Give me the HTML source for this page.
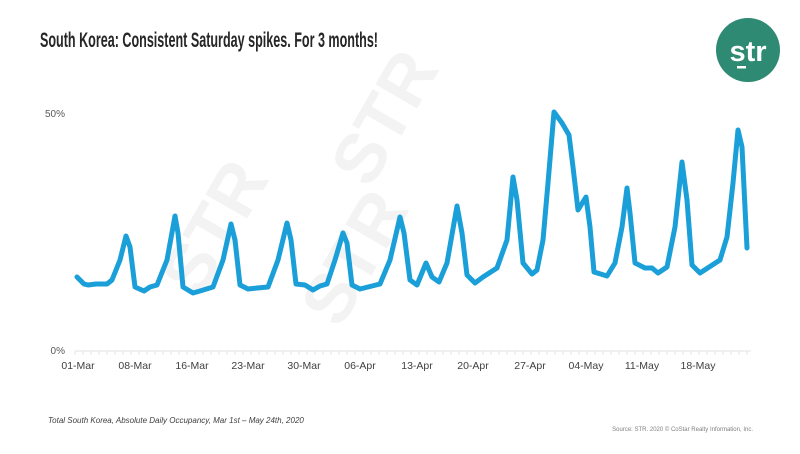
<!DOCTYPE html>
<html><head><meta charset="utf-8"><style>
body{margin:0;width:800px;height:449px;background:#fff;overflow:hidden;font-family:"Liberation Sans",sans-serif}
</style></head><body>
<svg width="800" height="449" viewBox="0 0 800 449" xmlns="http://www.w3.org/2000/svg" font-family="Liberation Sans, sans-serif">
<text x="40" y="47" font-size="21" font-weight="bold" fill="#262626" textLength="338" lengthAdjust="spacingAndGlyphs">South Korea: Consistent Saturday spikes. For 3 months!</text>
<circle cx="748" cy="50" r="32" fill="#2e8a72"/>
<text x="748" y="61" font-size="29" font-weight="bold" fill="#fff" text-anchor="middle">str</text>
<rect x="737" y="66" width="9" height="2.5" fill="#fff"/>
<g fill="#f3f3f3" font-size="70" font-weight="bold">
<text transform="translate(200,300) rotate(-60)">STR</text>
<text transform="translate(340,330) rotate(-60)">STR</text>
<text transform="translate(370,190) rotate(-60)">STR</text>
</g>
<text x="65" y="117" font-size="10" fill="#595959" text-anchor="end">50%</text>
<text x="65" y="354" font-size="10" fill="#595959" text-anchor="end">0%</text>
<line x1="75" y1="351" x2="751" y2="351" stroke="#e3e3e3" stroke-width="1"/>
<g stroke="#e3e3e3" stroke-width="1">
<path d="M75 351v4M83 351v4M91 351v4M99 351v4M107 351v4M115 351v4M123 351v4M131 351v4M139 351v4M147 351v4M155 351v4M163 351v4M171 351v4M179 351v4M187 351v4M195 351v4M203 351v4M211 351v4M219 351v4M227 351v4M235 351v4M243 351v4M251 351v4M259 351v4M267 351v4M275 351v4M283 351v4M291 351v4M299 351v4M307 351v4M315 351v4M323 351v4M331 351v4M339 351v4M347 351v4M355 351v4M363 351v4M371 351v4M379 351v4M387 351v4M395 351v4M403 351v4M411 351v4M419 351v4M427 351v4M435 351v4M443 351v4M451 351v4M459 351v4M467 351v4M475 351v4M483 351v4M491 351v4M499 351v4M507 351v4M515 351v4M523 351v4M531 351v4M539 351v4M547 351v4M555 351v4M563 351v4M571 351v4M579 351v4M587 351v4M595 351v4M603 351v4M611 351v4M619 351v4M627 351v4M635 351v4M643 351v4M651 351v4M659 351v4M667 351v4M675 351v4M683 351v4M691 351v4M699 351v4M707 351v4M715 351v4M723 351v4M731 351v4M739 351v4M747 351v4"/>
</g>
<g font-size="10.5" fill="#404040" text-anchor="middle">
<text x="78" y="369">01-Mar</text><text x="135" y="369">08-Mar</text><text x="192" y="369">16-Mar</text>
<text x="248" y="369">23-Mar</text><text x="304" y="369">30-Mar</text><text x="360" y="369">06-Apr</text>
<text x="417" y="369">13-Apr</text><text x="473" y="369">20-Apr</text><text x="530" y="369">27-Apr</text>
<text x="586" y="369">04-May</text><text x="642" y="369">11-May</text><text x="698" y="369">18-May</text>
</g>
<polyline fill="none" stroke="#1a9fd9" stroke-width="5" stroke-linejoin="round" stroke-linecap="round" points="77,277 84,284 88,285 96,284 107,284 112,280 120,260 126,236 130,247 135,287 144,291 150,287 157,285 167,260 175,216 178,233 183,287 193,293 200,291 213,287 223,260 231,224 235,240 240,285 248,289 257,288 268,287 278,260 287,223 291,240 296,284 305,285 313,290 320,286 327,284 335,260 343,233 347,243 352,285 360,289 380,284 390,260 400,217 404,233 410,280 417,285 426,263 432,277 439,282 447,263 457,206 462,233 467,275 475,283 483,277 497,268 507,240 513,177 517,200 523,263 532,274 537,270 543,240 548,183 554,112 562,123 569,135 573,167 578,210 586,197 590,227 594,272 607,276 615,263 622,227 627,188 630,213 635,263 645,268 652,268 658,273 667,267 675,227 682,162 687,200 692,265 700,273 720,260 727,237 733,183 738,130 742,147 747,248"/>
<text x="48" y="423" font-size="8" font-style="italic" fill="#404040">Total South Korea, Absolute Daily Occupancy, Mar 1st – May 24th, 2020</text>
<text x="753" y="431" font-size="6" fill="#7f7f7f" text-anchor="end">Source: STR. 2020 © CoStar Realty Information, Inc.</text>
</svg>
</body></html>
